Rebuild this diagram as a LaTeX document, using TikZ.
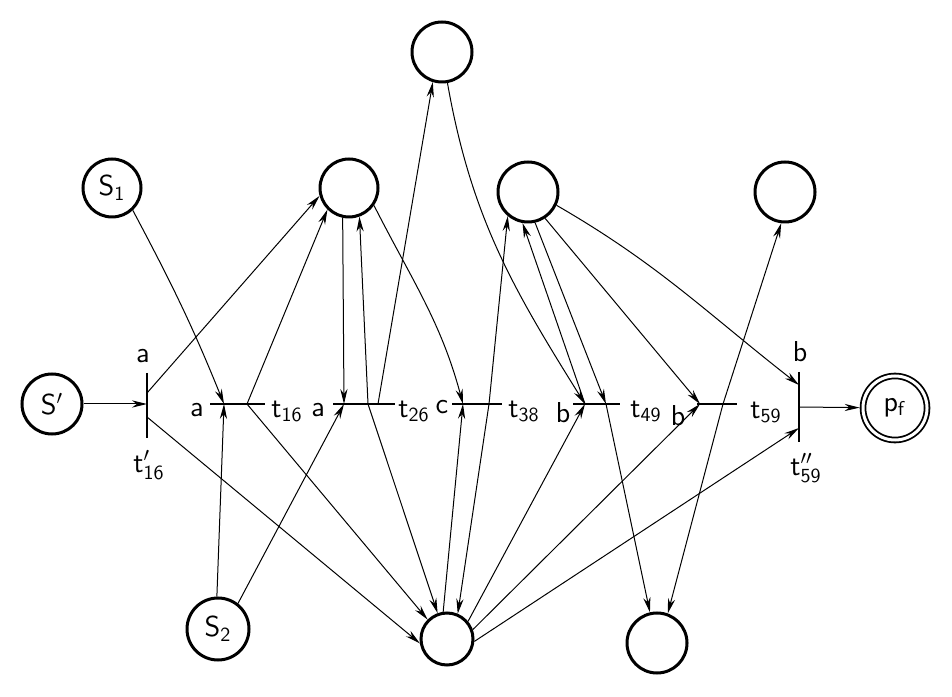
\documentclass[tikz,border=0pt]{standalone}
\usetikzlibrary{arrows.meta}

\tikzset{
	place/.style={circle, draw, line width=1.5pt, minimum size=30pt, inner sep=0pt, font=\Large},
	bar/.style={line width=0.8pt},
	flow/.style={-{Stealth[length=7.5pt,width=3.6pt]}, line width=0.5pt},
	lbl/.style={font=\sffamily\Large, inner sep=0pt},
}

\begin{document}
\begin{tikzpicture}[x=0.5pt,y=0.5pt]
	\useasboundingbox (0,0) rectangle (952,696);
	
	\node [place] (Sp) at (52,292) {$\mathsf{S'}$};
	\node [place, minimum size=29pt] (S1) at (112,508) {$\mathsf{S_1}$};
	\node [place, minimum size=31pt] (S2) at (218,67) {$\mathsf{S_2}$};
	\node [place, minimum size=29pt] (pA) at (349,508) {};
	\node [place] (pT) at (442,644) {};
	\node [place] (pB) at (528,504) {};
	\node [place] (pR) at (785,504) {};
	\node [place, minimum size=26pt] (pC) at (447,57) {};
	\node [place] (pD) at (657,53) {};
	\node [place, line width=0.9pt, double, double distance=1.5pt, minimum size=32pt, outer sep=1.7pt] (pf) at (895,288) {$\mathsf{p_f}$};
	
	\coordinate (t16pT) at (147,323);
	\coordinate (t16pB) at (147,258);
	\coordinate (t16pi) at (147,292);
	\coordinate (t16pu) at (147,303);
	\coordinate (t16pd) at (147,279);
	\coordinate (t16L) at (210,292);
	\coordinate (t16R) at (265,292);
	\coordinate (t16i) at (224,292);
	\coordinate (t16o) at (247,292);
	\coordinate (t26L) at (333,292);
	\coordinate (t26R) at (395,292);
	\coordinate (t26i) at (344,292);
	\coordinate (t26o) at (368,292);
	\coordinate (t26u) at (378,292);
	\coordinate (t38L) at (452,292);
	\coordinate (t38R) at (502,292);
	\coordinate (t38i) at (463,292);
	\coordinate (t38o) at (489,292);
	\coordinate (t49L) at (573,292);
	\coordinate (t49R) at (620,292);
	\coordinate (t49i) at (585,292);
	\coordinate (t49o) at (606,292);
	\coordinate (t59L) at (697,292);
	\coordinate (t59R) at (737,292);
	\coordinate (t59i) at (700,292);
	\coordinate (t59o) at (723,292);
	\coordinate (t59ppT) at (799,324);
	\coordinate (t59ppB) at (799,254);
	\coordinate (t59ppu) at (799,311);
	\coordinate (t59ppd) at (799,268);
	\coordinate (t59ppo) at (799,289);
	
	\draw [bar] (t16pT) -- (t16pB);
	\draw [bar] (t16L) -- (t16R);
	\draw [bar] (t26L) -- (t26R);
	\draw [bar] (t38L) -- (t38R);
	\draw [bar] (t49L) -- (t49R);
	\draw [bar] (t59L) -- (t59R);
	\draw [bar] (t59ppT) -- (t59ppB);
	
	\node [lbl] (l1) at (143,340) {a};
	\node [lbl] (l2) at (149,231) {$\mathsf{t'_{16}}$};
	\node [lbl] (l3) at (197,286) {a};
	\node [lbl] (l4) at (287,285) {$\mathsf{t_{16}}$};
	\node [lbl] (l5) at (318,286) {a};
	\node [lbl] (l6) at (414,285) {$\mathsf{t_{26}}$};
	\node [lbl] (l7) at (442,289) {c};
	\node [lbl] (l8) at (524,285) {$\mathsf{t_{38}}$};
	\node [lbl] (l9) at (563,283) {b};
	\node [lbl] (l10) at (646,285) {$\mathsf{t_{49}}$};
	\node [lbl] (l11) at (678,280) {b};
	\node [lbl] (l12) at (766,284) {$\mathsf{t_{59}}$};
	\node [lbl] (l13) at (800,344) {b};
	\node [lbl] (l14) at (806,228) {$\mathsf{t''_{59}}$};
	
	\draw [flow] (Sp) -- (t16pi);
	\draw [flow] (t16pu) -- (pA.195);
	\draw [flow] (t16pd) -- (pC.189);
	\draw [flow] (S1.313) to[out=-62,in=112] (t16i);
	\draw [flow] (S2.92) -- (t16i);
	\draw [flow] (t16o) -- (pA.225);
	\draw [flow] (t16o) -- (pC.135);
	\draw [flow] (S2.52) -- (t26i);
	\draw [flow] (pA.258) -- (t26i);
	\draw [flow] (t26o) -- (pA.290);
	\draw [flow] (t26o) -- (pC.110);
	\draw [flow] (t26u) -- (pT.253);
	\draw [flow] (pA.325) to[out=-63,in=105] (t38i);
	\draw [flow] (pC.98) -- (t38i);
	\draw [flow] (t38o) -- (pB.230);
	\draw [flow] (t38o) -- (pC.67);
	\draw [flow] (pT.280) to[out=-80,in=122] (t49i);
	\draw [flow] (pC.40) -- (t49i);
	\draw [flow] (t49i) -- (pB.260);
	\draw [flow] (pB.283) -- (t49o);
	\draw [flow] (t49o) -- (pD.103);
	\draw [flow] (pB.303) -- (t59i);
	\draw [flow] (pC.20) -- (t59i);
	\draw [flow] (t59o) -- (pR.263);
	\draw [flow] (t59o) -- (pD.70);
	\draw [flow] (pB.335) to[out=-30,in=142] (t59ppu);
	\draw [flow] (pC.-5) -- (t59ppd);
	\draw [flow] (t59ppo) -- (pf);
	
\end{tikzpicture}
\end{document}
